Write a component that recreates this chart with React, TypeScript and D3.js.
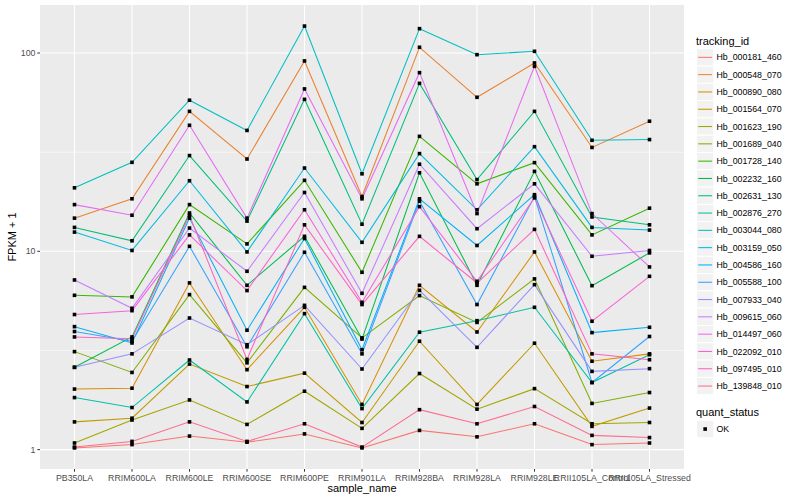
import { useEffect, useRef } from 'react';
import * as d3 from 'd3';

const samples = [
  'PB350LA', 'RRIM600LA', 'RRIM600LE', 'RRIM600SE', 'RRIM600PE', 'RRIM901LA',
  'RRIM928BA', 'RRIM928LA', 'RRIM928LE', 'RRII105LA_Control', 'RRII105LA_Stressed',
];

const trackingIds = [
  'Hb_000181_460', 'Hb_000548_070', 'Hb_000890_080', 'Hb_001564_070', 'Hb_001623_190',
  'Hb_001689_040', 'Hb_001728_140', 'Hb_002232_160', 'Hb_002631_130', 'Hb_002876_270',
  'Hb_003044_080', 'Hb_003159_050', 'Hb_004586_160', 'Hb_005588_100', 'Hb_007933_040',
  'Hb_009615_060', 'Hb_014497_060', 'Hb_022092_010', 'Hb_097495_010', 'Hb_139848_010',
];

// FPKM + 1, one row per tracking_id, columns follow `samples`
const fpkm: number[][] = [
  [1.02, 1.06, 1.17, 1.09, 1.2, 1.02, 1.25, 1.16, 1.35, 1.06, 1.08],
  [14.7, 18.4, 50.8, 29.2, 91.2, 18.9, 106.9, 59.8, 89.1, 33.4, 45.3],
  [2.02, 2.04, 6.93, 2.53, 5.22, 1.69, 6.74, 3.92, 9.93, 2.79, 3.04],
  [1.38, 1.44, 2.7, 2.08, 2.43, 1.37, 3.52, 1.69, 3.44, 1.31, 1.62],
  [1.08, 1.41, 1.78, 1.34, 1.97, 1.28, 2.42, 1.6, 2.03, 1.35, 1.37],
  [3.12, 2.45, 6.05, 2.74, 6.58, 3.66, 5.98, 4.38, 7.26, 1.71, 1.94],
  [6.0, 5.89, 17.2, 10.9, 22.8, 7.84, 38.0, 21.9, 28.0, 12.1, 16.5],
  [2.6, 3.7, 15.6, 6.74, 11.9, 3.61, 24.9, 6.74, 25.3, 6.71, 9.82],
  [13.2, 11.3, 30.4, 14.2, 58.4, 13.7, 70.3, 23.0, 50.8, 14.9, 13.6],
  [1.83, 1.63, 2.83, 1.74, 4.85, 1.61, 3.91, 4.47, 5.22, 2.18, 3.01],
  [20.9, 28.1, 57.8, 40.7, 136.7, 24.6, 132.7, 98.1, 102, 36.3, 36.6],
  [12.5, 10.1, 22.7, 9.93, 26.3, 11.1, 31.1, 16.2, 33.7, 13.2, 12.8],
  [4.17, 3.45, 14.7, 4.0, 11.6, 3.19, 18.4, 10.7, 19.3, 3.89, 4.14],
  [3.94, 3.52, 10.6, 3.3, 9.89, 3.04, 17.9, 5.39, 18.9, 2.18, 3.72],
  [2.6, 3.04, 4.61, 3.38, 5.34, 2.55, 6.36, 3.28, 6.79, 2.48, 2.56],
  [7.17, 5.16, 13.1, 7.93, 19.8, 6.14, 27.5, 13.0, 21.9, 9.44, 10.1],
  [17.2, 15.2, 43.2, 14.7, 65.9, 18.4, 79.6, 15.5, 85.7, 15.5, 8.34],
  [4.8, 5.02, 12.1, 6.34, 16.2, 5.53, 16.8, 7.06, 18.6, 4.44, 7.48],
  [3.7, 3.62, 15.2, 2.85, 13.6, 5.39, 11.9, 6.92, 12.9, 3.04, 2.84],
  [1.03, 1.1, 1.38, 1.1, 1.35, 1.03, 1.59, 1.35, 1.65, 1.18, 1.15],
];

// ggplot2 default hue palette for 20 levels
const palette = [
  '#F8766D', '#EA8331', '#D89000', '#C09B00', '#A3A500', '#7CAE00', '#39B600', '#00BB4E',
  '#00BF7D', '#00C1A3', '#00BFC4', '#00BAE0', '#00B0F6', '#35A2FF', '#9590FF', '#C77CFF',
  '#E76BF3', '#FA62DB', '#FF62BC', '#FF6C91',
];

const yBreaks = [1, 10, 100];
const yMinorBreaks = [Math.sqrt(10), Math.sqrt(1000)];
const statusLevels = ['OK'];

const W = 800;
const H = 500;
const panel = { left: 40, right: 684, top: 5, bottom: 469 };
const font = '"Liberation Sans", Arial, Helvetica, sans-serif';

export default function App() {
  const svgRef = useRef<SVGSVGElement>(null);

  useEffect(() => {
    if (!svgRef.current) return;
    const svg = d3.select(svgRef.current);
    svg.selectAll('*').remove();

    const all = fpkm.flat();
    const lo = Math.log10(d3.min(all) ?? 1);
    const hi = Math.log10(d3.max(all) ?? 100);
    const pad = (hi - lo) * 0.05;

    const x = d3
      .scalePoint<string>()
      .domain(samples)
      .range([panel.left, panel.right])
      .padding(0.6);

    const y = d3
      .scaleLog()
      .domain([Math.pow(10, lo - pad), Math.pow(10, hi + pad)])
      .range([panel.bottom, panel.top]);

    svg
      .append('rect')
      .attr('x', panel.left)
      .attr('y', panel.top)
      .attr('width', panel.right - panel.left)
      .attr('height', panel.bottom - panel.top)
      .attr('fill', '#EBEBEB');

    const grid = svg.append('g');
    grid
      .selectAll('line.minor')
      .data(yMinorBreaks)
      .join('line')
      .attr('x1', panel.left)
      .attr('x2', panel.right)
      .attr('y1', (d) => y(d))
      .attr('y2', (d) => y(d))
      .attr('stroke', '#fff')
      .attr('stroke-width', 0.55);
    grid
      .selectAll('line.majory')
      .data(yBreaks)
      .join('line')
      .attr('x1', panel.left)
      .attr('x2', panel.right)
      .attr('y1', (d) => y(d))
      .attr('y2', (d) => y(d))
      .attr('stroke', '#fff')
      .attr('stroke-width', 1.1);
    grid
      .selectAll('line.majorx')
      .data(samples)
      .join('line')
      .attr('x1', (d) => x(d)!)
      .attr('x2', (d) => x(d)!)
      .attr('y1', panel.top)
      .attr('y2', panel.bottom)
      .attr('stroke', '#fff')
      .attr('stroke-width', 1.1);

    const line = d3
      .line<number>()
      .x((_, i) => x(samples[i])!)
      .y((d) => y(d));

    svg
      .append('g')
      .selectAll('path')
      .data(fpkm)
      .join('path')
      .attr('d', (d) => line(d))
      .attr('fill', 'none')
      .attr('stroke', (_, i) => palette[i])
      .attr('stroke-width', 1.05);

    const pts = fpkm.flatMap((row) => row.map((v, i) => ({ s: samples[i], v })));
    const ps = 3.6;
    svg
      .append('g')
      .selectAll('rect')
      .data(pts)
      .join('rect')
      .attr('x', (d) => x(d.s)! - ps / 2)
      .attr('y', (d) => y(d.v) - ps / 2)
      .attr('width', ps)
      .attr('height', ps)
      .attr('fill', '#000');

    // y axis
    const yAxis = svg.append('g');
    yBreaks.forEach((b) => {
      yAxis
        .append('line')
        .attr('x1', panel.left - 2.7)
        .attr('x2', panel.left)
        .attr('y1', y(b))
        .attr('y2', y(b))
        .attr('stroke', '#333')
        .attr('stroke-width', 1);
      yAxis
        .append('text')
        .attr('x', panel.left - 4.5)
        .attr('y', y(b))
        .attr('dy', '0.35em')
        .attr('text-anchor', 'end')
        .attr('font-family', font)
        .attr('font-size', 8.8)
        .attr('fill', '#4D4D4D')
        .text(String(b));
    });

    // x axis
    const xAxis = svg.append('g');
    samples.forEach((s) => {
      xAxis
        .append('line')
        .attr('x1', x(s)!)
        .attr('x2', x(s)!)
        .attr('y1', panel.bottom)
        .attr('y2', panel.bottom + 2.7)
        .attr('stroke', '#333')
        .attr('stroke-width', 1);
      xAxis
        .append('text')
        .attr('x', x(s)!)
        .attr('y', panel.bottom + 11.5)
        .attr('text-anchor', 'middle')
        .attr('font-family', font)
        .attr('font-size', 8.8)
        .attr('fill', '#4D4D4D')
        .text(s);
    });

    svg
      .append('text')
      .attr('x', (panel.left + panel.right) / 2)
      .attr('y', 492)
      .attr('text-anchor', 'middle')
      .attr('font-family', font)
      .attr('font-size', 11)
      .attr('fill', '#000')
      .text('sample_name');

    svg
      .append('text')
      .attr('transform', `translate(16, ${(panel.top + panel.bottom) / 2}) rotate(-90)`)
      .attr('text-anchor', 'middle')
      .attr('font-family', font)
      .attr('font-size', 11)
      .attr('fill', '#000')
      .text('FPKM + 1');

    // legends
    const lg = svg.append('g');
    const keyX = 696.5;
    const keySize = 17.3;
    lg.append('text')
      .attr('x', 696)
      .attr('y', 44.5)
      .attr('font-family', font)
      .attr('font-size', 11)
      .attr('fill', '#000')
      .text('tracking_id');

    trackingIds.forEach((id, i) => {
      const top = 48.7 + i * keySize;
      lg.append('rect')
        .attr('x', keyX)
        .attr('y', top)
        .attr('width', keySize)
        .attr('height', keySize)
        .attr('fill', '#F2F2F2')
        .attr('stroke', '#fff')
        .attr('stroke-width', 1);
      lg.append('line')
        .attr('x1', keyX + 1.7)
        .attr('x2', keyX + keySize - 1.7)
        .attr('y1', top + keySize / 2)
        .attr('y2', top + keySize / 2)
        .attr('stroke', palette[i])
        .attr('stroke-width', 1.05);
      lg.append('text')
        .attr('x', 716.5)
        .attr('y', top + keySize / 2)
        .attr('dy', '0.35em')
        .attr('font-family', font)
        .attr('font-size', 8.8)
        .attr('fill', '#000')
        .text(id);
    });

    lg.append('text')
      .attr('x', 696)
      .attr('y', 416)
      .attr('font-family', font)
      .attr('font-size', 11)
      .attr('fill', '#000')
      .text('quant_status');

    statusLevels.forEach((s, i) => {
      const top = 420.4 + i * keySize;
      lg.append('rect')
        .attr('x', keyX)
        .attr('y', top)
        .attr('width', keySize)
        .attr('height', keySize)
        .attr('fill', '#F2F2F2')
        .attr('stroke', '#fff')
        .attr('stroke-width', 1);
      lg.append('rect')
        .attr('x', keyX + keySize / 2 - ps / 2)
        .attr('y', top + keySize / 2 - ps / 2)
        .attr('width', ps)
        .attr('height', ps)
        .attr('fill', '#000');
      lg.append('text')
        .attr('x', 716.5)
        .attr('y', top + keySize / 2)
        .attr('dy', '0.35em')
        .attr('font-family', font)
        .attr('font-size', 8.8)
        .attr('fill', '#000')
        .text(s);
    });
  }, []);

  return (
    <svg
      ref={svgRef}
      width={W}
      height={H}
      viewBox={`0 0 ${W} ${H}`}
      style={{ position: 'absolute', left: 0, top: 0, background: '#fff' }}
    />
  );
}
